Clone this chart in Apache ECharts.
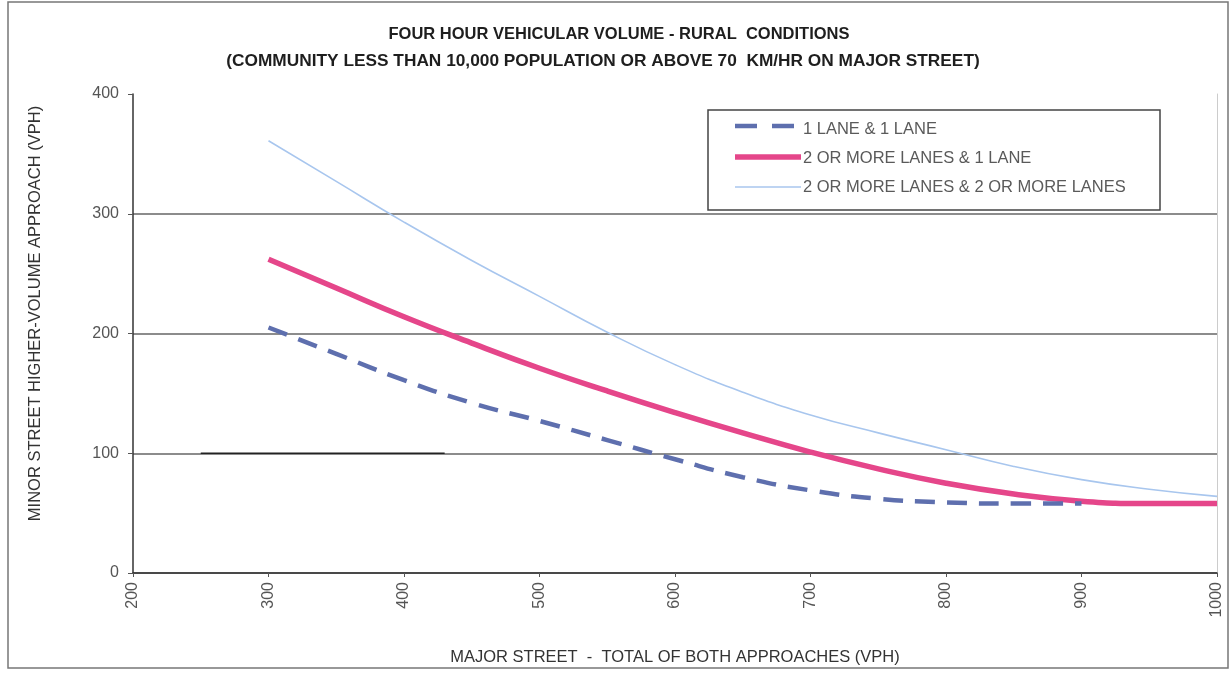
<!DOCTYPE html>
<html>
<head>
<meta charset="utf-8">
<script src="https://cdn.jsdelivr.net/npm/echarts@6/dist/echarts.min.js"></script>
<style>
  html, body { margin: 0; padding: 0; background: #fff; }
  #chart { width: 1232px; height: 673px; }
</style>
</head>
<body>
<div id="chart"></div>
<script>
// major street volume (vph) -> minor street volume (vph)
const oneLaneOneLane = [
  [300, 205], [350, 183], [400, 161], [450, 142], [500, 127], [550, 111],
  [600, 95], [650, 80], [700, 69], [750, 62], [800, 59], [850, 58], [900, 58]
]
const twoLanesOneLane = [
  [300, 262], [350, 238], [400, 214], [450, 192], [500, 171], [550, 152],
  [600, 134], [650, 117], [700, 101], [750, 87], [800, 75], [850, 66],
  [900, 60], [950, 58], [1000, 58]
]
const twoLanesTwoLanes = [
  [300, 361], [350, 327], [400, 293], [450, 261], [500, 231], [550, 201],
  [600, 174], [650, 151], [700, 132], [750, 117], [800, 103], [850, 89],
  [900, 78], [950, 70], [1000, 64]
]
// short dark stroke on the 100 gridline in the scanned original
const scanStroke = [[250, 100], [430, 100]]

const seriesNames = ['1 LANE & 1 LANE', '2 OR MORE LANES & 1 LANE', '2 OR MORE LANES & 2 OR MORE LANES']
const titleLine1 = 'FOUR HOUR VEHICULAR VOLUME - RURAL  CONDITIONS'
const titleLine2 = '(COMMUNITY LESS THAN 10,000 POPULATION OR ABOVE 70  KM/HR ON MAJOR STREET)'

const font = "'Liberation Sans Narrow', 'Arial Narrow', 'Liberation Sans', sans-serif"

const styles = [
  { color: '#5e6fae', width: 4.5, type: [20, 12] },
  { color: '#e5468a', width: 5.5, type: 'solid' },
  { color: '#a8c6ee', width: 1.6, type: 'solid' },
]

const chart = echarts.init(document.getElementById('chart'))

const titleStyle = {
  fontFamily: font,
  fontWeight: 'bold',
  color: '#1e1e1e',
}

// legend samples drawn by hand so the line widths match the plot
const legendRowY = [126, 157, 187]
const legendSamples = styles.map((s, i) => ({
  type: 'line',
  shape: { x1: 735, y1: legendRowY[i], x2: 801, y2: legendRowY[i] },
  style: {
    stroke: s.color,
    lineWidth: s.width,
    lineDash: Array.isArray(s.type) ? [22, 15] : null,
  },
  z: 20,
  silent: true,
}))

chart.setOption({
  backgroundColor: '#fff',
  animation: false,
  textStyle: { fontFamily: font },
  title: [
    { text: titleLine1, left: 614, top: 21, textAlign: 'center', textStyle: { ...titleStyle, fontSize: 16.5 } },
    { text: titleLine2, left: 598, top: 48, textAlign: 'center', textStyle: { ...titleStyle, fontSize: 17.3 } },
  ],
  graphic: [
    {
      type: 'rect',
      shape: { x: 8, y: 2, width: 1220, height: 666 },
      style: { fill: 'none', stroke: '#777', lineWidth: 1.5 },
      silent: true,
    },
    {
      type: 'rect',
      shape: { x: 708, y: 110, width: 452, height: 100 },
      style: { fill: '#fff', stroke: '#444', lineWidth: 1.5 },
      z: 5,
      silent: true,
    },
    ...legendSamples,
  ],
  legend: {
    orient: 'vertical',
    left: 733,
    top: 116,
    itemGap: 12,
    itemWidth: 68,
    itemHeight: 19,
    z: 10,
    data: seriesNames,
    itemStyle: { opacity: 0 },
    lineStyle: { opacity: 0 },
    textStyle: {
      fontFamily: font,
      fontSize: 16.5,
      color: '#5a5a5a',
      padding: [0, 0, 0, -9],
    },
  },
  grid: {
    left: 133,
    right: 15,
    top: 94,
    bottom: 100,
  },
  xAxis: {
    type: 'value',
    min: 200,
    max: 1000,
    interval: 100,
    name: 'MAJOR STREET  -  TOTAL OF BOTH APPROACHES (VPH)',
    nameLocation: 'middle',
    nameGap: 76,
    nameTextStyle: { fontFamily: font, fontSize: 16.5, color: '#333' },
    axisLine: { show: true, lineStyle: { color: '#333', width: 1.5 } },
    axisTick: { show: true, length: 4, lineStyle: { color: '#555' } },
    axisLabel: {
      rotate: 90,
      margin: 9,
      fontFamily: font,
      fontSize: 16,
      color: '#555',
      formatter: (v) => String(v),
    },
    splitLine: { show: false },
  },
  yAxis: [
    {
      type: 'value',
      min: 0,
      max: 400,
      interval: 100,
      name: 'MINOR STREET HIGHER-VOLUME APPROACH (VPH)',
      nameLocation: 'middle',
      nameGap: 89,
      nameTextStyle: { fontFamily: font, fontSize: 16.5, color: '#333', padding: [0, 0, 0, 40] },
      axisLine: { show: true, lineStyle: { color: '#333', width: 1.5 } },
      axisTick: { show: true, length: 5, lineStyle: { color: '#555' } },
      axisLabel: { margin: 14, fontFamily: font, fontSize: 16, color: '#555' },
      splitLine: { show: true, showMaxLine: false, lineStyle: { color: '#666', width: 1.5 } },
    },
    {
      type: 'value',
      min: 0,
      max: 400,
      interval: 100,
      position: 'right',
      axisLine: { show: true, lineStyle: { color: '#ccc', width: 1 } },
      axisTick: { show: false },
      axisLabel: { show: false },
      splitLine: { show: false },
    },
  ],
  series: [
    {
      name: seriesNames[0],
      type: 'line',
      data: oneLaneOneLane,
      smooth: true,
      symbol: 'none',
      z: 4,
      lineStyle: styles[0],
      itemStyle: { color: styles[0].color },
    },
    {
      name: seriesNames[1],
      type: 'line',
      data: twoLanesOneLane,
      smooth: true,
      symbol: 'none',
      z: 3,
      lineStyle: styles[1],
      itemStyle: { color: styles[1].color },
    },
    {
      name: seriesNames[2],
      type: 'line',
      data: twoLanesTwoLanes,
      smooth: true,
      symbol: 'none',
      z: 2,
      lineStyle: styles[2],
      itemStyle: { color: styles[2].color },
    },
    {
      name: 'scan',
      type: 'line',
      data: scanStroke,
      symbol: 'none',
      silent: true,
      z: 1,
      lineStyle: { color: '#222', width: 1.5 },
    },
  ],
})
</script>
</body>
</html>
